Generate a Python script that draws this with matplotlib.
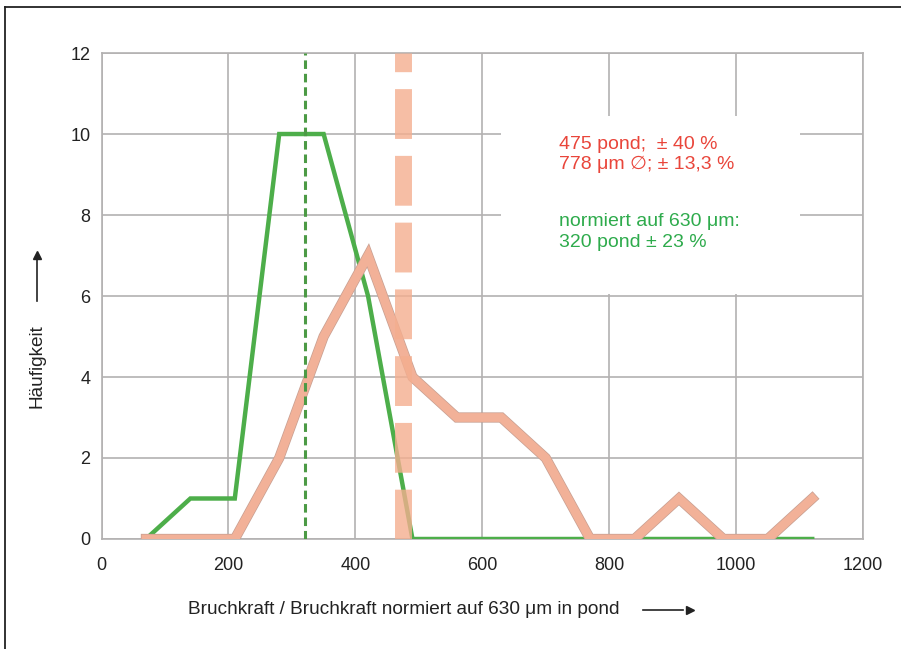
import matplotlib
matplotlib.use("Agg")
import matplotlib.pyplot as plt
import matplotlib.patheffects as pe
from matplotlib.patches import Rectangle
from matplotlib.lines import Line2D

# ---------- Daten ----------
klassen = [70, 140, 210, 280, 350, 420, 490, 560, 630, 700, 770, 840, 910, 980, 1050, 1120]
haeufigkeit_roh = [0, 0, 0, 2, 5, 7, 4, 3, 3, 2, 0, 0, 1, 0, 0, 1]
haeufigkeit_norm = [0, 1, 1, 10, 10, 6, 0, 0, 0, 0, 0, 0, 0, 0, 0, 0]
mittel_roh = 475
mittel_norm = 320
x_ticks = [0, 200, 400, 600, 800, 1000, 1200]
y_ticks = [0, 2, 4, 6, 8, 10, 12]

plt.rcParams['font.family'] = ['Liberation Sans', 'DejaVu Sans']

fig = plt.figure(figsize=(9.01, 6.49), dpi=100)
ax = fig.add_axes([0.1127, 0.1695, 0.8451, 0.7488])

grau = '#b3b1b1'
ax.set_xlim(0, 1200)
ax.set_ylim(0, 12)
ax.set_xticks(x_ticks)
ax.set_yticks(y_ticks)
ax.grid(True, color=grau, linewidth=1.2)
ax.set_axisbelow(True)
for s in ax.spines.values():
    s.set_color(grau)
    s.set_linewidth(1.2)
ax.tick_params(length=0, labelsize=13, colors='#222222')
ax.tick_params(axis='x', pad=13)
ax.tick_params(axis='y', pad=8)

# weisses Feld hinter dem Text
ax.add_patch(Rectangle((630, 6.05), 470, 4.4, facecolor='white', edgecolor='none', zorder=1))

# Kurven
ax.plot(klassen, haeufigkeit_norm, color='#4dae4a', linewidth=3.2, zorder=3,
        solid_joinstyle='miter')
ax.plot(klassen, haeufigkeit_roh, color='#f5b399', linewidth=6.3, zorder=4, alpha=0.95,
        solid_joinstyle='miter',
        path_effects=[pe.Stroke(linewidth=7.4, foreground='#c9a092'), pe.Normal()])

# Mittelwerte
ax.plot([mittel_norm, mittel_norm], [0, 12], color='#4c9a45', linewidth=2.2,
        dashes=(2.8, 1.6), zorder=5)
ax.plot([mittel_roh, mittel_roh], [0, 12], color='#f4ae8f', linewidth=12.2, alpha=0.8,
        dashes=(2.94, 1.0), solid_capstyle='butt', dash_capstyle='butt', zorder=6)

# Texte
rot = '#e9453a'
gruen = '#2eab4c'
ax.text(0.620, 0.778, '475 pond;  \u00b1 40 %', transform=fig.transFigure, color=rot,
        fontsize=14, va='center', ha='left')
ax.text(0.620, 0.746, '778 \u03bcm \u2205; \u00b1 13,3 %', transform=fig.transFigure, color=rot,
        fontsize=14, va='center', ha='left')
ax.text(0.620, 0.658, 'normiert auf 630 \u03bcm:', transform=fig.transFigure, color=gruen,
        fontsize=14, va='center', ha='left')
ax.text(0.620, 0.626, '320 pond \u00b1 23 %', transform=fig.transFigure, color=gruen,
        fontsize=14, va='center', ha='left')

# Achsenbeschriftungen mit Pfeilen
fig.text(0.2087, 0.0601, 'Bruchkraft / Bruchkraft normiert auf 630 \u03bcm in pond',
         fontsize=13.7, color='#222222', va='center', ha='left')
fig.add_artist(Line2D([0.714, 0.758], [0.0601, 0.0601], color='#222222', linewidth=1.2))
fig.add_artist(Line2D([0.766], [0.0601], marker='>', markersize=6, color='#222222',
                      linestyle='none'))
fig.text(0.041, 0.436, 'H\u00e4ufigkeit', rotation=90, fontsize=13.7, color='#222222',
         va='center', ha='center')
fig.add_artist(Line2D([0.041, 0.041], [0.536, 0.603], color='#222222', linewidth=1.2))
fig.add_artist(Line2D([0.041], [0.607], marker='^', markersize=6, color='#222222',
                      linestyle='none'))

# Rahmen (nur oben und links sichtbar)
fig.add_artist(Line2D([0.0055, 0.0055], [0.0, 0.9892], color='#222222', linewidth=1.3))
fig.add_artist(Line2D([0.0055, 1.0], [0.9892, 0.9892], color='#222222', linewidth=1.3))

fig.savefig('out.png', dpi=100)
